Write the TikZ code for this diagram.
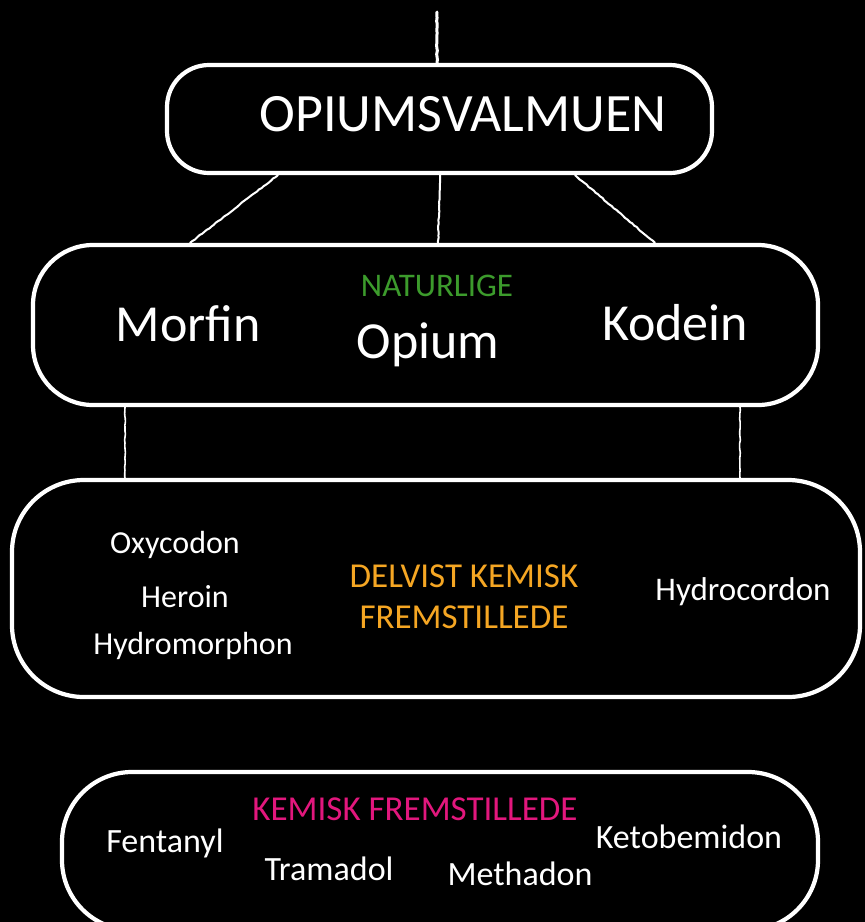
\documentclass[tikz,border=0pt]{standalone}
\usepackage{fontspec}
\setmainfont{Carlito}
\usetikzlibrary{decorations.pathmorphing}
\definecolor{natgreen}{HTML}{3C9B2C}
\definecolor{delorange}{HTML}{F5A623}
\definecolor{kemmag}{HTML}{E2177D}
\tikzset{
  chalkbox/.style={draw=white, line width=4.2pt, rounded corners=#1, inner sep=0pt},
  chalkline/.style={draw=white, line width=2pt, line cap=round,
    decorate, decoration={random steps, segment length=3pt, amplitude=0.4pt}},
  txt/.style={text=white, inner sep=0pt, anchor=center},
}
\begin{document}
\begin{tikzpicture}[x=1pt,y=-1pt]
\useasboundingbox (0,0) rectangle (865,922);
\fill[black] (0,0) rectangle (865,922);
\begin{scope}
\clip (0,0) rectangle (865,922);
% boxes
\node[chalkbox=42pt, minimum width=545pt, minimum height=108pt] (b1) at (439.5,119) {};
\node[chalkbox=60pt, minimum width=785pt, minimum height=160pt] (b2) at (425.5,325) {};
\node[chalkbox=72pt, minimum width=848pt, minimum height=217pt] (b3) at (436,588.5) {};
\node[chalkbox=70pt, minimum width=756pt, minimum height=158pt] (b4) at (440,851) {};

% connectors
\coordinate (top) at (437,12);
\coordinate (xl1) at (278,0);
\coordinate (xm1) at (440,0);
\coordinate (xr1) at (575,0);
\coordinate (xl2) at (190,0);
\coordinate (xm2) at (438,0);
\coordinate (xr2) at (655,0);
\coordinate (xl3) at (125,0);
\coordinate (xr3) at (740,0);
\draw[chalkline, line width=3pt] (top) -- (b1.north -| top);
\draw[chalkline] (b1.south -| xl1) -- (b2.north -| xl2);
\draw[chalkline] (b1.south -| xm1) -- (b2.north -| xm2);
\draw[chalkline] (b1.south -| xr1) -- (b2.north -| xr2);
\draw[chalkline, line width=1.6pt] (b2.south -| xl3) -- (b3.north -| xl3);
\draw[chalkline, line width=1.6pt] (b2.south -| xr3) -- (b3.north -| xr3);
\end{scope}

% texts
\node[txt, font=\fontsize{54}{54}\selectfont] (t1) at (463,114) {OPIUMSVALMUEN};

\node[txt, text=natgreen, font=\fontsize{33}{33}\selectfont] (nat) at (437,286) {NATURLIGE};
\node[txt, font=\fontsize{52}{52}\selectfont] (morfin) at (188,324) {Morfin};
\node[txt, font=\fontsize{52}{52}\selectfont] (opium) at (428,345) {Opium};
\node[txt, font=\fontsize{52}{52}\selectfont] (kodein) at (675,323) {Kodein};

\node[txt, font=\fontsize{32}{32}\selectfont] (oxy) at (175,545) {Oxycodon};
\node[txt, font=\fontsize{32}{32}\selectfont] (her) at (185,597) {Heroin};
\node[txt, font=\fontsize{32}{32}\selectfont] (hydm) at (193,646) {Hydromorphon};
\node[txt, text=delorange, font=\fontsize{35}{35}\selectfont] (del1) at (464,576) {DELVIST KEMISK};
\node[txt, text=delorange, font=\fontsize{35}{35}\selectfont] (del2) at (464,617) {FREMSTILLEDE};
\node[txt, font=\fontsize{33}{33}\selectfont] (hydc) at (743,592) {Hydrocordon};

\node[txt, text=kemmag, font=\fontsize{35}{35}\selectfont] (kem) at (415,809) {KEMISK FREMSTILLEDE};
\node[txt, font=\fontsize{34}{34}\selectfont] (fen) at (165,843) {Fentanyl};
\node[txt, font=\fontsize{34}{34}\selectfont] (tra) at (329,869) {Tramadol};
\node[txt, font=\fontsize{34}{34}\selectfont] (met) at (520,874) {Methadon};
\node[txt, font=\fontsize{34}{34}\selectfont] (ket) at (689,837) {Ketobemidon};
\end{tikzpicture}
\end{document}
